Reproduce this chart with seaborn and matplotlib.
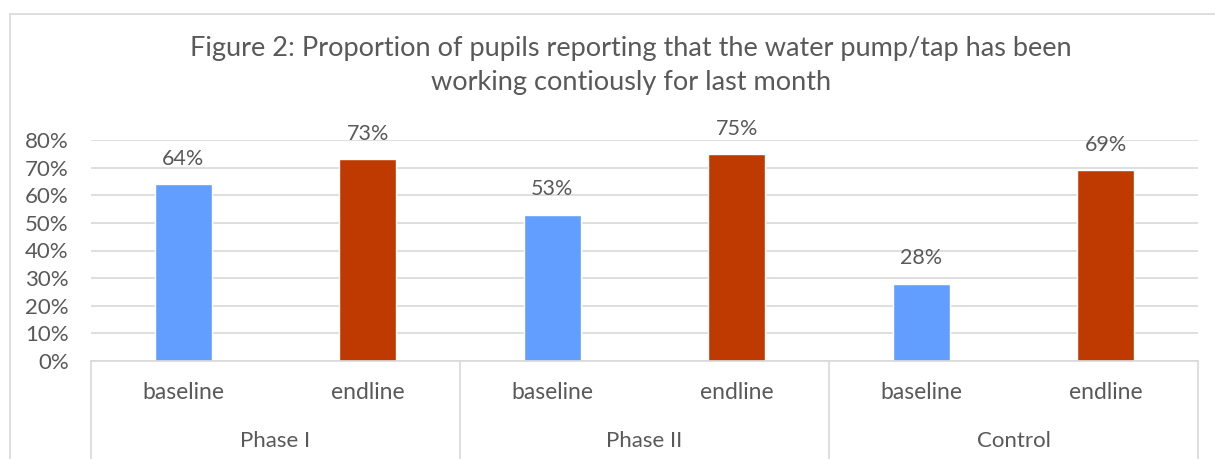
import matplotlib
matplotlib.use("Agg")
import matplotlib.pyplot as plt
import seaborn as sns
import pandas as pd
from matplotlib.patches import Rectangle

groups = ["Phase I", "Phase I", "Phase II", "Phase II", "Control", "Control"]
stages = ["baseline", "endline", "baseline", "endline", "baseline", "endline"]
values = [0.64, 0.73, 0.53, 0.75, 0.28, 0.69]
group_names = ["Phase I", "Phase II", "Control"]
y_ticks = [0, 0.1, 0.2, 0.3, 0.4, 0.5, 0.6, 0.7, 0.8]

df = pd.DataFrame({"group": groups, "stage": stages, "value": values})
df["pos"] = [f"{g}|{s}" for g, s in zip(groups, stages)]

sns.set_style("white")
plt.rcParams["font.family"] = ["Lato", "DejaVu Sans"]
grey = "#595959"
line_col = "#d9d9d9"

W, H = 1215, 459
fig = plt.figure(figsize=(W / 100, H / 100), dpi=100)
ax = fig.add_axes([91 / W, 1 - 361 / H, (1198 - 91) / W, (361 - 140) / H])

sns.barplot(data=df, x="pos", y="value", hue="stage",
            palette={"baseline": "#629EFF", "endline": "#BF3A00"},
            dodge=False, width=0.31, saturation=1, legend=False, ax=ax)

ax.set_ylim(0, 0.8)
ax.set_xlim(-0.5, len(values) - 0.5)
ax.set_yticks(y_ticks)
ax.set_yticklabels([f"{int(round(t * 100))}%" for t in y_ticks], color=grey, fontsize=16)
ax.yaxis.grid(True, color=line_col, linewidth=1.2)
ax.set_axisbelow(True)
for sp in ax.spines.values():
    sp.set_visible(False)
ax.tick_params(axis="y", length=0, pad=16)
ax.set_xlabel("")
ax.set_ylabel("")
ax.set_xticks(range(len(values)))
ax.set_xticklabels(stages, color=grey, fontsize=16.5)
ax.tick_params(axis="x", length=0, pad=15)

for i, v in enumerate(values):
    ax.annotate(f"{int(round(v * 100))}%", (i, v), xytext=(0, 11),
                textcoords="offset points", ha="center", va="bottom",
                color=grey, fontsize=15.5)

# baseline line and group separators
trans = ax.get_xaxis_transform()
ax.plot([-0.5, len(values) - 0.5], [0, 0], color=line_col, lw=1.2,
        transform=trans, clip_on=False)
for k in range(len(group_names) + 1):
    x = -0.5 + 2 * k
    ax.plot([x, x], [0, -0.5], color=line_col, lw=1.2,
            transform=trans, clip_on=False)
for k, name in enumerate(group_names):
    ax.text(0.5 + 2 * k, -0.36, name, transform=trans, ha="center",
            va="center", color=grey, fontsize=16)

fig.text(631 / W, 1 - 66 / H,
         "Figure 2: Proportion of pupils reporting that the water pump/tap has been\n"
         "working contiously for last month",
         ha="center", va="center", color=grey, fontsize=19.5, linespacing=1.45)

# chart border
fig.patches.append(Rectangle((10 / W, -0.1), 1.2, 1 - 14 / H + 0.1,
                             transform=fig.transFigure, fill=False,
                             edgecolor=line_col, lw=1.2))

fig.savefig("out.png", dpi=100)
